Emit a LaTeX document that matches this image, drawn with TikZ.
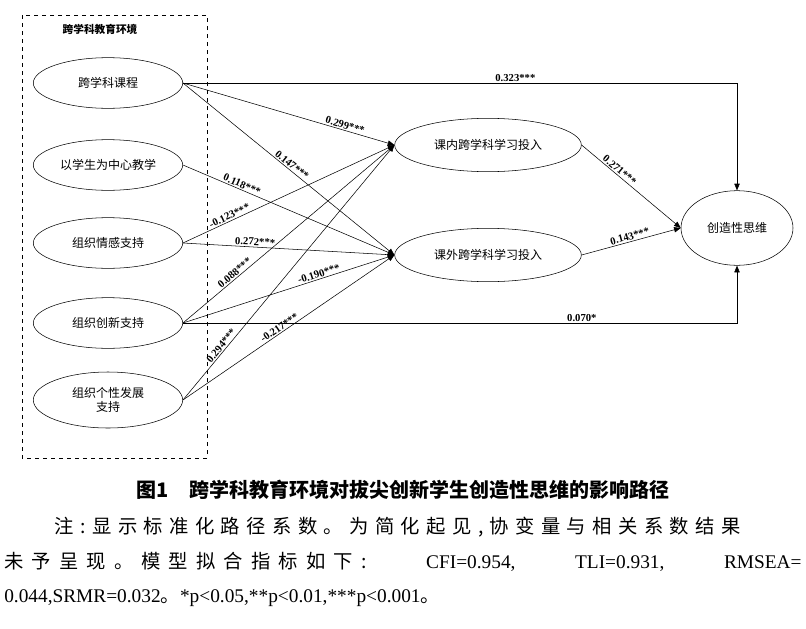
\documentclass[tikz,border=0pt]{standalone}
\usepackage{fontspec}
\setmainfont{Liberation Serif}
\newfontfamily\cjk{Noto Sans CJK SC}
\newfontfamily\cjkwide[LetterSpace=33]{Noto Sans CJK SC}
\newfontfamily\cjkwider[LetterSpace=42]{Noto Sans CJK SC}
\usetikzlibrary{arrows.meta,shapes.geometric}
\begin{document}
\begin{tikzpicture}[x=0.75pt,y=-0.75pt,
    var/.style={draw,ellipse,minimum width=#1,font=\cjk\fontsize{9}{10}\selectfont,align=center},
    path/.style={-{Triangle[length=5pt,width=4pt]}},
    coef/.style={font=\bfseries\fontsize{8}{9}\selectfont,sloped,above,inner sep=1pt},
    noteline/.style={anchor=west,text width=598pt,inner sep=0pt,font=\fontsize{14.5}{16}\selectfont}]
    \useasboundingbox (0,0) rectangle (806,628);
    \draw [dashed] (22,15) rectangle (207,458);
    \node [font=\cjk\bfseries\fontsize{8}{9}\selectfont] (env) at (100,29) {跨学科教育环境};

    \node [var=112pt,minimum height=38pt] (kc) at (108,83) {跨学科课程};
    \node [var=112pt,minimum height=38pt] (xs) at (108,165) {以学生为中心教学};
    \node [var=112pt,minimum height=38pt] (qg) at (108,243) {组织情感支持};
    \node [var=112pt,minimum height=38pt] (cx) at (108,323) {组织创新支持};
    \node [var=112pt,minimum height=42pt] (gx) at (108,400) {组织个性发展\\支持};
    \node [var=140pt,minimum height=40pt] (kn) at (488,145) {课内跨学科学习投入};
    \node [var=140pt,minimum height=40pt] (kw) at (488,255) {课外跨学科学习投入};
    \node [var=84pt,minimum height=56pt] (cz) at (737,228) {创造性思维};

    \draw [path] (kc.east) -- node [coef,pos=0.76] {0.299***} (kn.west);
    \draw [path] (kc.east) -- node [coef,pos=0.5] {0.147***} (kw.west);
    \draw [path] (xs.east) -- node [coef,pos=0.27] {0.118***} (kw.west);
    \draw [path] (qg.east) -- node [coef,pos=0.23] {-0.123***} (kn.west);
    \draw [path] (qg.east) -- node [coef,pos=0.34] {0.272***} (kw.west);
    \draw [path] (cx.east) -- node [coef,pos=0.26] {0.088***} (kn.west);
    \draw [path] (cx.east) -- node [coef,pos=0.65] {-0.190***} (kw.west);
    \draw [path] (gx.east) -- node [coef,pos=0.2] {0.294***} (kn.west);
    \draw [path] (gx.east) -- node [coef,pos=0.47] {-0.217***} (kw.west);
    \draw [path] (kc.east) -- node [coef,pos=0.6] {0.323***} (cz.north |- kc.east) -- (cz.north);
    \draw [path] (cx.east) -- node [coef,pos=0.72] {0.070*} (cz.south |- cx.east) -- (cz.south);
    \draw [path] (kn.east) -- node [coef,pos=0.35] {0.271***} (cz.west);
    \draw [path] (kw.east) -- node [coef,pos=0.5] {0.143***} (cz.west);

    % caption
    \node [font=\cjk\bfseries\fontsize{15}{18}\selectfont] (cap) at (403,490) {图1\quad 跨学科教育环境对拔尖创新学生创造性思维的影响路径};
    \node [noteline] (note1) at (4,527) {\hspace*{38pt}{\cjkwide 注:显示标准化路径系数。为简化起见,协变量与相关系数结果}\hfill\null};
    \node [noteline] (note2) at (4,562) {{\cjkwider 未予呈现。模型拟合指标如下:}\hfill CFI=0.954,\hfill TLI=0.931,\hfill RMSEA=};
    \node [noteline] (note3) at (4,598) {0.044,SRMR=0.032{\cjk 。}*p<0.05,**p<0.01,***p<0.001{\cjk 。}};
\end{tikzpicture}
\end{document}
